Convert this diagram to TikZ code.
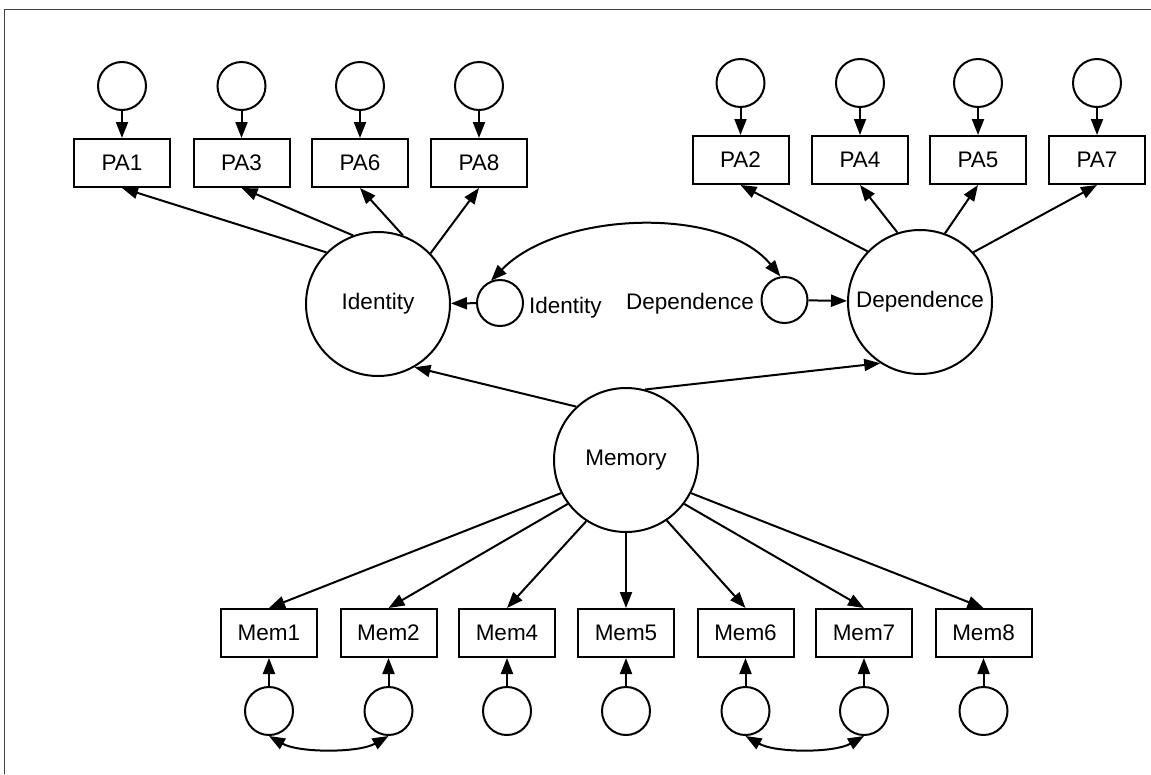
\documentclass[tikz,border=0pt]{standalone}
\usepackage{fontspec}
\setmainfont{Liberation Sans}
\usetikzlibrary{arrows.meta}
\begin{document}
\begin{tikzpicture}[x=1pt,y=-1pt,
  font=\fontsize{22.5pt}{27pt}\selectfont,
  obs/.style={draw, rectangle, line width=2pt, minimum width=96pt, minimum height=48pt, inner sep=0pt},
  lat/.style={draw, circle, line width=2pt, minimum size=144pt, inner sep=0pt},
  err/.style={draw, circle, line width=2pt, minimum size=48pt, inner sep=0pt},
  dist/.style={draw, circle, line width=2pt, minimum size=46pt, inner sep=0pt},
  lbl/.style={inner sep=0pt},
  arr/.style={line width=2pt, -{Triangle[length=16pt,width=12pt]}},
  dblarr/.style={line width=2pt, {Triangle[length=16pt,width=12pt]}-{Triangle[length=16pt,width=12pt]}},
  frame/.style={line width=1pt, draw=black!75}
]
\useasboundingbox (0,0) rectangle (1151,774);
\draw[frame] (4,774) -- (4,9) -- (1151,9);

% latent factors
\node[lat] (id)  at (378,304) {Identity};
\node[lat] (dep) at (920,302) {Dependence};
\node[lat] (mem) at (626,460) {Memory};

% Identity indicators
\foreach \n/\x in {1/122,3/241.5,6/360,8/479}{
  \node[obs] (pa\n) at (\x,163) {PA\n};
  \node[err] (epa\n) at (\x,86) {};
  \draw[arr] (epa\n) -- (pa\n);
}
% Dependence indicators
\foreach \n/\x in {2/740.5,4/860,5/978,7/1097}{
  \node[obs] (pa\n) at (\x,160) {PA\n};
  \node[err] (epa\n) at (\x,83) {};
  \draw[arr] (epa\n) -- (pa\n);
}
% Memory indicators
\foreach \n/\x in {1/269,2/388.5,4/507,5/626,6/745.5,7/864,8/983.5}{
  \node[obs] (m\n) at (\x,633) {Mem\n};
  \node[err] (em\n) at (\x,711) {};
  \draw[arr] (em\n) -- (m\n);
}

% loadings
\draw[arr] (id.135) -- (pa1.south);
\draw[arr] (id.110) -- (pa3.south);
\draw[arr] (id.70)  -- (pa6.south);
\draw[arr] (id.44)  -- (pa8.south);
\draw[arr] (dep.136) -- (pa2.south);
\draw[arr] (dep.108) -- (pa4.south);
\draw[arr] (dep.70)  -- (pa5.south);
\draw[arr] (dep.43)  -- (pa7.south);
\draw[arr] (mem.207) -- (m1.north);
\draw[arr] (mem.217) -- (m2.north);
\draw[arr] (mem.237) -- (m4.north);
\draw[arr] (mem.270) -- (m5.north);
\draw[arr] (mem.304) -- (m6.north);
\draw[arr] (mem.323) -- (m7.north);
\draw[arr] (mem.333) -- (m8.north);

% structural paths
\draw[arr] (mem.133) -- (id.300);
\draw[arr] (mem.75)  -- (dep.237);

% disturbances
\node[dist] (eid)  at (500,303)   {};
\node[dist] (edep) at (784.5,300) {};
\node[lbl, anchor=base west] (lid)  at (529,313) {Identity};
\node[lbl, anchor=base east] (ldep) at (754,309) {Dependence};
\draw[arr] (eid) -- (id);
\draw[arr] (edep) -- (dep);

% covariances
\draw[dblarr] (eid.112) .. controls +(68,-70) and +(-58,-71) .. (edep.100);
\draw[dblarr] (em1.south) .. controls +(30,17) and +(-30,17) .. (em2.south);
\draw[dblarr] (em6.south) .. controls +(30,17) and +(-30,17) .. (em7.south);
\end{tikzpicture}
\end{document}
